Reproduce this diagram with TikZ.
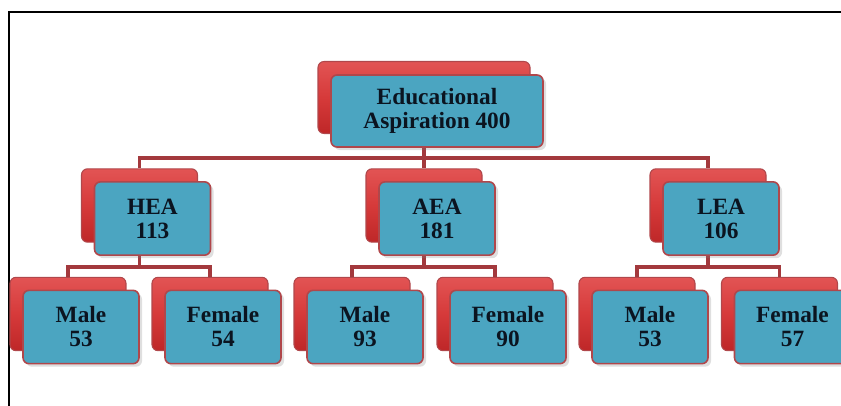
\documentclass[tikz,border=0pt]{standalone}
\usepackage{fontspec}
\setmainfont{Liberation Serif}
\usetikzlibrary{shadows}
\definecolor{redtop}{HTML}{E25454}
\definecolor{redmid}{HTML}{D63A3A}
\definecolor{redbot}{HTML}{BE2728}
\definecolor{blueface}{HTML}{4BA5C1}
\definecolor{redline}{HTML}{B0474B}
\definecolor{connred}{HTML}{A3393D}
\definecolor{inkdark}{HTML}{0B1420}

\begin{document}
\begin{tikzpicture}[x=0.75pt,y=0.75pt,yscale=-1,xscale=1,
  back/.style={draw=redline, line width=0.8pt, rounded corners=4.5pt, top color=redtop, bottom color=redbot, middle color=redmid, minimum width=87pt, minimum height=55pt, inner sep=0pt},
  face/.style={draw=redline, line width=1.2pt, rounded corners=4.5pt, fill=blueface, text=inkdark, minimum width=87pt, minimum height=55pt, inner sep=0pt, align=center, font=\bfseries\fontsize{17.5}{18}\selectfont, drop shadow={opacity=0.25}},
  conn/.style={draw=connred, line width=2.6pt}]
\useasboundingbox (0,0) rectangle (841,406);

%Shape: Frame
\draw [line width=0.8pt] (841,12) -- (9,12) -- (9,406);

%Shape: Back Boxes
\node [back, minimum width=159pt, minimum height=54pt] (topR) at (424,97.5) {};
\node [back] (heaR) at (139.5,205.5) {};
\node [back] (aeaR) at (424,205.5) {};
\node [back] (leaR) at (708,205.5) {};
\node [back] (hmR) at (68,314) {};
\node [back] (hfR) at (210,314) {};
\node [back] (amR) at (352,314) {};
\node [back] (afR) at (495,314) {};
\node [back] (lmR) at (637,314) {};
\node [back] (lfR) at (779.5,314) {};

%Connectors
\coordinate (j0) at (424,158);
\coordinate (j1) at (139.5,267);
\coordinate (j2) at (424,267);
\coordinate (j3) at (708,267);
\draw [conn] (topR.south) -- (j0);
\draw [conn] (heaR.north) |- (j0) -| (leaR.north);
\draw [conn] (j0) -- (aeaR.north);
\draw [conn] (heaR.south) -- (j1);
\draw [conn] (hmR.north) |- (j1) -| (hfR.north);
\draw [conn] (aeaR.south) -- (j2);
\draw [conn] (amR.north) |- (j2) -| (afR.north);
\draw [conn] (leaR.south) -- (j3);
\draw [conn] (lmR.north) |- (j3) -| (lfR.north);

% Text Node
\node [face, minimum width=159pt, minimum height=54pt] (top) at (437,111) {Educational\\Aspiration 400};
% Text Node
\node [face] (hea) at (152.5,218.5) {HEA\\113};
% Text Node
\node [face] (aea) at (437,218.5) {AEA\\181};
% Text Node
\node [face] (lea) at (721,218.5) {LEA\\106};
% Text Node
\node [face] (hm) at (81,327) {Male\\53};
% Text Node
\node [face] (hf) at (223,327) {Female\\54};
% Text Node
\node [face] (am) at (365,327) {Male\\93};
% Text Node
\node [face] (af) at (508,327) {Female\\90};
% Text Node
\node [face] (lm) at (650,327) {Male\\53};
% Text Node
\node [face] (lf) at (792.5,327) {Female\\57};

\end{tikzpicture}
\end{document}
